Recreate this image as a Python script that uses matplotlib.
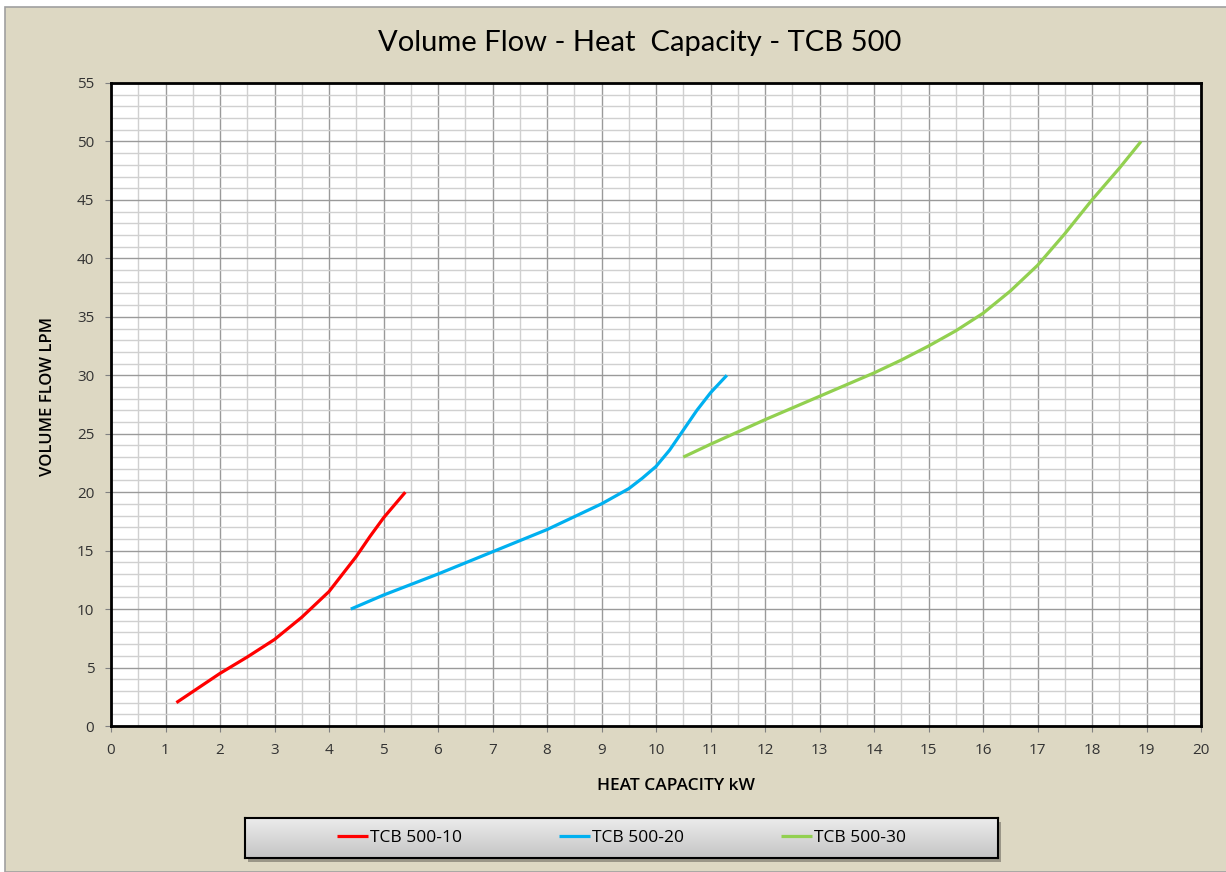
import numpy as np
import matplotlib.pyplot as plt
from matplotlib.patches import Rectangle
from matplotlib.ticker import MultipleLocator

# データ
red_x = [1.2, 2.0, 2.5, 3.0, 3.5, 4.0, 4.25, 4.5, 4.75, 5.0, 5.4]
red_y = [2.0, 4.5, 5.9, 7.4, 9.3, 11.5, 13.0, 14.5, 16.2, 17.8, 20.0]

blue_x = [4.4, 5.0, 6.0, 7.0, 8.0, 8.5, 9.0, 9.5, 9.75, 10.0, 10.25, 10.5, 10.75, 11.0, 11.3]
blue_y = [10.0, 11.2, 13.0, 14.9, 16.8, 17.9, 19.0, 20.3, 21.2, 22.2, 23.6, 25.3, 27.0, 28.5, 30.0]

green_x = [10.5, 11.0, 12.0, 13.0, 14.0, 14.5, 15.0, 15.5, 16.0, 16.5, 17.0, 17.5, 18.0, 18.5, 18.9]
green_y = [23.0, 24.1, 26.2, 28.2, 30.2, 31.3, 32.5, 33.8, 35.3, 37.2, 39.4, 42.1, 45.0, 47.7, 50.0]

series_names = ['TCB 500-10', 'TCB 500-20', 'TCB 500-30']
series_colors = ['#FF0000', '#00B0F0', '#92D050']

W, H = 1226, 872
fig = plt.figure(figsize=(W / 100, H / 100), dpi=100, facecolor='white')

# 背景
bg = Rectangle((5 / W, 0), 1, 1 - 7 / H, transform=fig.transFigure,
               facecolor='#DDD8C3', edgecolor='#A0A0A0', linewidth=1.2, zorder=-10)
fig.patches.append(bg)

ax = fig.add_axes([111 / W, 1 - 726 / H, (1201 - 111) / W, (726 - 83) / H])
ax.set_facecolor('white')

lines = []
for xs, ys, c, name in zip([red_x, blue_x, green_x], [red_y, blue_y, green_y],
                           series_colors, series_names):
    l, = ax.plot(xs, ys, color=c, linewidth=2.3, label=name,
                 solid_capstyle='butt', solid_joinstyle='round', zorder=3)
    lines.append(l)

ax.set_xlim(0, 20)
ax.set_ylim(0, 55)
ax.xaxis.set_major_locator(MultipleLocator(1))
ax.xaxis.set_minor_locator(MultipleLocator(0.5))
ax.yaxis.set_major_locator(MultipleLocator(5))
ax.yaxis.set_minor_locator(MultipleLocator(1))
ax.grid(which='major', color='#9A9A9A', linewidth=1.0)
ax.grid(which='minor', color='#D0D0D0', linewidth=1.0)
ax.set_axisbelow(True)

for s in ax.spines.values():
    s.set_color('black')
    s.set_linewidth(2)

ax.tick_params(which='major', direction='out', length=4, color='#808080',
               labelsize=11, labelcolor='#333333', pad=8)
ax.tick_params(which='minor', length=0)
for lab in ax.get_xticklabels() + ax.get_yticklabels():
    lab.set_family('Open Sans')

fig.text(640 / W, 1 - 43 / H, 'Volume Flow - Heat  Capacity - TCB 500',
         ha='center', va='center', fontsize=21, family='Lato', color='black')
fig.text(676 / W, 1 - 786 / H, 'HEAT CAPACITY kW', ha='center', va='center',
         fontsize=12.5, family='Open Sans', fontweight='semibold', color='black')
fig.text(48 / W, 1 - 396 / H, 'VOLUME FLOW LPM', ha='center', va='center',
         rotation=90, fontsize=12, family='Open Sans', fontweight='semibold', color='black')

# 凡例の枠 (グラデーション + 影)
bx0, bx1, by0, by1 = 245, 998, 818, 858
shadow = Rectangle(((bx0 + 3) / W, 1 - (by1 + 4) / H), (bx1 - bx0) / W, (by1 - by0) / H,
                   transform=fig.transFigure, facecolor='#9A9688', edgecolor='none', zorder=-5)
fig.patches.append(shadow)
lax = fig.add_axes([bx0 / W, 1 - by1 / H, (bx1 - bx0) / W, (by1 - by0) / H])
grad = np.linspace(0, 1, 100).reshape(-1, 1)
lax.imshow(grad, cmap=plt.matplotlib.colors.LinearSegmentedColormap.from_list(
    'g', ['#EDEDED', '#C4C4C4']), aspect='auto', extent=[0, 1, 0, 1], origin='upper')
lax.set_xticks([])
lax.set_yticks([])
for s in lax.spines.values():
    s.set_color('black')
    s.set_linewidth(1.5)

leg = lax.legend(lines, series_names, loc='center', ncol=3, frameon=False,
                 bbox_to_anchor=(0.5, 0.5), handlelength=1.8, handletextpad=0.1,
                 columnspacing=5.6, borderaxespad=0,
                 prop={'family': 'Open Sans', 'size': 12.5})

fig.savefig('out.png', dpi=100, facecolor=fig.get_facecolor())
